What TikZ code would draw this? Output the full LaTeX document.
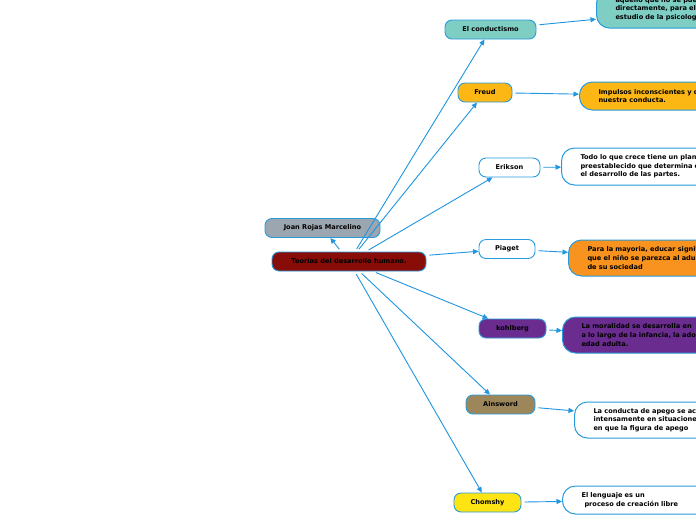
\documentclass[tikz,border=0pt]{standalone}
\usepackage{fontspec}
\setmainfont{DejaVu Sans}
\usetikzlibrary{arrows.meta}
\definecolor{bordc}{RGB}{40,155,220}
\definecolor{arrc}{RGB}{30,150,225}
\definecolor{cred}{RGB}{136,12,8}
\definecolor{cgray}{RGB}{156,166,176}
\definecolor{cteal}{RGB}{126,206,196}
\definecolor{cfreud}{RGB}{253,183,20}
\definecolor{corange}{RGB}{247,147,30}
\definecolor{cpurple}{RGB}{106,44,142}
\definecolor{cbrown}{RGB}{156,134,90}
\definecolor{cyellow}{RGB}{255,228,20}
\tikzset{
  txt/.style={font=\fontsize{6.6}{8.6}\selectfont\bfseries, text=black},
  pill/.style={txt, draw=bordc, line width=0.9pt, rounded corners=7pt, inner sep=0pt, minimum height=19pt, align=center},
  tbox/.style={txt, draw=bordc, line width=1pt, rounded corners=13pt, inner xsep=19pt, inner ysep=0pt, minimum width=210pt, text width=172pt, align=left, anchor=west},
  conn/.style={draw=arrc, line width=0.9pt, -{Triangle[length=5.5pt,width=5pt]}, shorten <=3pt}
}
\begin{document}
\begin{tikzpicture}[x=1pt,y=-1pt]
\useasboundingbox (0,0) rectangle (696,520);
\clip (0,0) rectangle (696,520);
\fill[white] (0,0) rectangle (696,520);
% main nodes
\node[pill, fill=cred, minimum width=154pt] (c) at (349,261.5) {Teorias del desarrollo humano.};
\node[pill, fill=cgray, minimum width=115pt] (joan) at (322.5,228) {Joan Rojas Marcelino};
\node[pill, fill=cteal, minimum width=91pt] (cond) at (490.5,29.5) {El conductismo};
\node[pill, fill=cfreud, minimum width=54pt] (freud) at (485,92.5) {Freud};
\node[pill, fill=white, minimum width=61pt] (erik) at (509.5,167.5) {Erikson};
\node[pill, fill=white, minimum width=56pt] (piag) at (507,249) {Piaget};
\node[pill, fill=cpurple, minimum width=67pt] (kohl) at (512.5,328.5) {kohlberg};
\node[pill, fill=cbrown, minimum width=69pt] (ains) at (500.5,404.5) {Ainsword};
\node[pill, fill=cyellow, minimum width=67pt] (chom) at (487.5,502.5) {Chomshy};
% text boxes
\node[tbox, fill=cteal, minimum height=38pt] (condt) at (596,9) {aquello que no se puede observar\\directamente, para el estudio\\estudio de la psicología};
\node[tbox, fill=cfreud, minimum height=28pt] (freudt) at (579,96) {Impulsos inconscientes y deseos\\nuestra conducta.};
\node[tbox, fill=white, minimum height=37pt] (erikt) at (561,166.5) {Todo lo que crece tiene un plan\\preestablecido que determina el\\el desarrollo de las partes.};
\node[tbox, fill=corange, minimum height=36pt] (piagt) at (568,258) {Para la mayoria, educar significa\\que el niño se parezca al adulto\\de su sociedad};
\node[tbox, fill=cpurple, minimum height=36pt] (kohlt) at (562,335) {La moralidad se desarrolla en\\a lo largo de la infancia, la adolescencia\\edad adulta.};
\node[tbox, fill=white, minimum height=36pt] (ainst) at (574,420) {La conducta de apego se activa\\intensamente en situaciones\\en que la figura de apego};
\node[tbox, fill=white, minimum height=28pt] (chomt) at (562,500) {El lenguaje es un\\\hspace*{3pt}proceso de creación libre};
% connectors
\draw[conn] (c) -- (joan);
\draw[conn] (c) -- (cond);
\draw[conn] (c) -- (freud);
\draw[conn] (c) -- (erik);
\draw[conn] (c) -- (piag);
\draw[conn] (c) -- (kohl);
\draw[conn] (c) -- (ains);
\draw[conn] (c) -- (chom);
\draw[conn] (cond) -- (condt);
\draw[conn] (freud) -- (freudt);
\draw[conn] (erik) -- (erikt);
\draw[conn] (piag) -- (piagt);
\draw[conn] (kohl) -- (kohlt);
\draw[conn] (ains) -- (ainst);
\draw[conn] (chom) -- (chomt);
\end{tikzpicture}
\end{document}
